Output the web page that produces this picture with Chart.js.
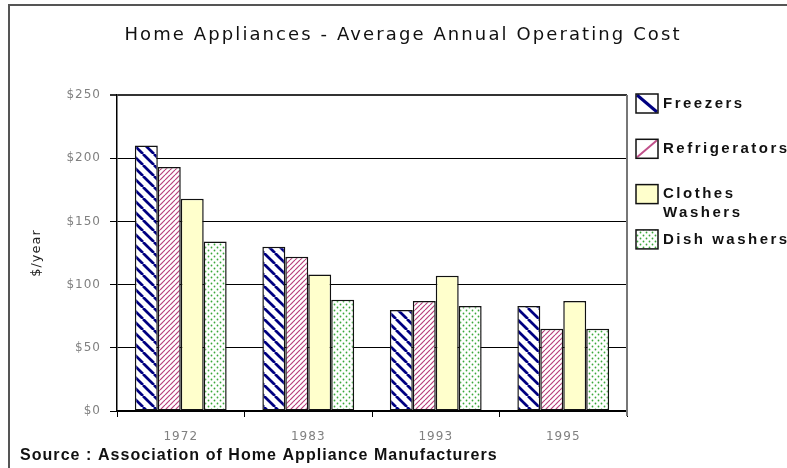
<!DOCTYPE html>
<html>
<head>
<meta charset="utf-8">
<script src="https://cdn.jsdelivr.net/npm/chart.js@4"></script>
<style>
  html, body { margin: 0; padding: 0; background: #fff; }
</style>
</head>
<body>
<canvas id="grafico" width="787" height="468"></canvas>
<script>
// data
const years = ["1972", "1983", "1993", "1995"];
const seriesNames = ["Freezers", "Refrigerators", "Clothes\nWashers", "Dish washers"];
const freezers = [210, 130, 80, 83];
const refrigerators = [193, 122, 87, 65];
const clothesWashers = [168, 108, 107, 87];
const dishWashers = [134, 88, 83, 65];
const yTicks = [0, 50, 100, 150, 200, 250];

const titleText = "Home Appliances - Average Annual Operating Cost";
const sourceText = "Source : Association of Home Appliance Manufacturers";

const canvas = document.getElementById("grafico");
const ctx = canvas.getContext("2d");

// small tiles used as bar fills
function tile(size, draw) {
  const c = document.createElement("canvas");
  c.width = c.height = size;
  const g = c.getContext("2d");
  g.fillStyle = "#fff";
  g.fillRect(0, 0, size, size);
  draw(g, size);
  return ctx.createPattern(c, "repeat");
}

function stripes(color, width, back) {
  return (g, s) => {
    g.strokeStyle = color;
    g.lineWidth = width;
    for (let k = -1; k <= 1; k++) {
      g.beginPath();
      if (back) { g.moveTo(k * s, 0); g.lineTo(k * s + s, s); }
      else { g.moveTo(k * s, s); g.lineTo(k * s + s, 0); }
      g.stroke();
    }
  };
}

const navyHatch = tile(11, stripes("#000080", 2.7, true));
const pinkHatch = tile(5, stripes("#b8407c", 1.2, false));
const greenDots = tile(6, (g) => {
  g.fillStyle = "#3aa83a";
  [[1.5, 1.5], [4.5, 4.5]].forEach(([x, y]) => {
    g.beginPath(); g.arc(x, y, 0.9, 0, Math.PI * 2); g.fill();
  });
});

const fills = [navyHatch, pinkHatch, "#ffffcc", greenDots];
const iconLines = ["#000080", "#c0508a", null, null];
const values = [freezers, refrigerators, clothesWashers, dishWashers];

const extras = {
  id: "extras",
  beforeUpdate(chart) { chart.ctx.letterSpacing = "1px"; },
  beforeDraw(chart) { chart.ctx.letterSpacing = "1px"; },
  afterDraw(chart) {
    const c = chart.ctx;
    const area = chart.chartArea;
    c.save();

    // outer frame (only left and top are visible)
    c.strokeStyle = "#555";
    c.lineWidth = 2;
    c.beginPath();
    c.moveTo(9, 468); c.lineTo(9, 5); c.lineTo(787, 5);
    c.stroke();

    // right edge of the plot
    c.strokeStyle = "#777";
    c.beginPath();
    c.moveTo(area.right, area.top); c.lineTo(area.right, area.bottom + 5);
    c.stroke();

    // title
    c.fillStyle = "#111";
    c.font = "18px 'DejaVu Sans'";
    c.letterSpacing = "2.1px";
    c.textAlign = "center";
    c.textBaseline = "middle";
    c.fillText(titleText, 403, 35);

    // legend
    c.textAlign = "left";
    c.font = "bold 15px 'Liberation Sans'";
    c.letterSpacing = "2.5px";
    chart.data.datasets.forEach((ds, i) => {
      const top = 94 + i * 45.3;
      const bx = 636, bw = 22, bh = 19;
      c.fillStyle = iconLines[i] ? "#fff" : ds.backgroundColor;
      c.fillRect(bx, top, bw, bh);
      if (iconLines[i]) {
        c.strokeStyle = iconLines[i];
        c.lineWidth = i === 0 ? 3 : 2;
        c.beginPath();
        if (i === 0) { c.moveTo(bx + 1, top + 1); c.lineTo(bx + bw - 1, top + bh - 1); }
        else { c.moveTo(bx + 1, top + bh - 1); c.lineTo(bx + bw - 1, top + 1); }
        c.stroke();
      }
      c.strokeStyle = "#111";
      c.lineWidth = 1.5;
      c.strokeRect(bx, top, bw, bh);
      c.fillStyle = "#111";
      ds.label.split("\n").forEach((line, j) => {
        c.fillText(line, 663, top + bh / 2 + j * 19);
      });
    });

    // source note
    c.letterSpacing = "1.05px";
    c.font = "bold 16px 'Liberation Sans'";
    c.fillText(sourceText, 20, 456);
    c.restore();
  }
};

new Chart(ctx, {
  type: "bar",
  data: {
    labels: years,
    datasets: seriesNames.map((name, i) => ({
      label: name,
      data: values[i],
      backgroundColor: fills[i],
      borderColor: "#111",
      borderWidth: 1.5,
      borderSkipped: false,
      categoryPercentage: 0.72,
      barPercentage: 1
    }))
  },
  options: {
    responsive: false,
    animation: false,
    devicePixelRatio: 1,
    layout: { padding: { left: 10, right: 160, top: 95, bottom: 0 } },
    plugins: {
      legend: { display: false },
      title: { display: false },
      tooltip: { enabled: false }
    },
    scales: {
      x: {
        afterFit: (s) => { s.height = 57; },
        grid: { offset: true, drawOnChartArea: false, tickLength: 6, color: "#000" },
        border: { color: "#000", width: 1.5 },
        ticks: { color: "#808080", font: { family: "DejaVu Sans", size: 12 }, padding: 13 }
      },
      y: {
        min: 0,
        max: 250,
        afterFit: (s) => { s.width = 107; },
        afterBuildTicks: (s) => { s.ticks = yTicks.map(v => ({ value: v })); },
        grid: {
          tickLength: 7,
          color: (c) => c.tick && c.tick.value === 250 ? "#333" : "#000",
          lineWidth: (c) => c.tick && c.tick.value === 250 ? 2 : 1
        },
        border: { color: "#000", width: 1.5 },
        ticks: {
          color: "#808080",
          font: { family: "DejaVu Sans", size: 12 },
          padding: 9,
          callback: (v) => "$" + v
        },
        title: {
          display: true,
          text: "$/year",
          color: "#222",
          font: { family: "DejaVu Sans", size: 13 },
          padding: { top: 19, bottom: 0 }
        }
      }
    }
  },
  plugins: [extras]
});
</script>
</body>
</html>
